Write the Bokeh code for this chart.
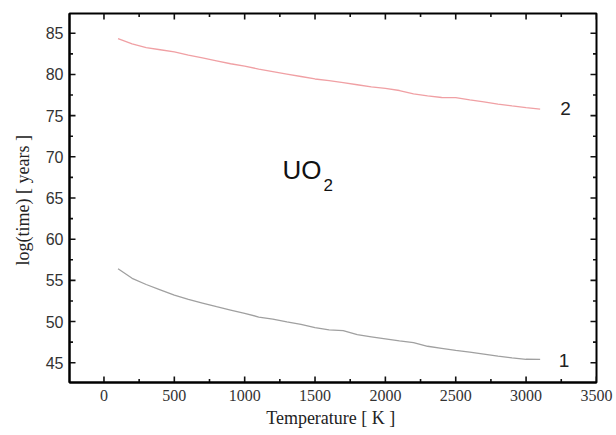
from bokeh.plotting import figure
from bokeh.models import Label, FixedTicker
from bokeh.embed import file_html
from bokeh.resources import INLINE

# Data
temperature = [100, 200, 300, 400, 500, 600, 700, 800, 900, 1000, 1100, 1200, 1300, 1400, 1500,
               1600, 1700, 1800, 1900, 2000, 2100, 2200, 2300, 2400, 2500, 2600, 2700, 2800, 2900,
               3000, 3100]
curve2 = [84.35, 83.7, 83.25, 83.0, 82.75, 82.35, 82.0, 81.65, 81.3, 81.0, 80.65, 80.35, 80.05,
          79.75, 79.45, 79.25, 79.0, 78.75, 78.5, 78.3, 78.05, 77.65, 77.4, 77.2, 77.18, 76.92,
          76.67, 76.4, 76.18, 75.98, 75.8]
curve1 = [56.4, 55.25, 54.5, 53.85, 53.2, 52.7, 52.25, 51.8, 51.4, 51.0, 50.55, 50.3, 49.95,
          49.65, 49.25, 49.0, 48.9, 48.4, 48.15, 47.9, 47.65, 47.45, 47.0, 46.75, 46.5,
          46.3, 46.05, 45.8, 45.6, 45.42, 45.4]
x_ticks = [0, 500, 1000, 1500, 2000, 2500, 3000, 3500]
x_minor = [250, 750, 1250, 1750, 2250, 2750, 3250]
y_ticks = [45, 50, 55, 60, 65, 70, 75, 80, 85]
y_minor = [47.5, 52.5, 57.5, 62.5, 67.5, 72.5, 77.5, 82.5]
curve_names = ["1", "2"]

X0, X1 = -245, 3500.5
Y0, Y1 = 42.6, 87.4
FW, FH = 527, 369
dx = (X1 - X0) / FW   # data units per pixel
dy = (Y1 - Y0) / FH

p = figure(frame_width=FW, frame_height=FH, x_range=(X0, X1), y_range=(Y0, Y1),
           output_backend="svg", toolbar_location=None,
           min_border_left=69, min_border_right=18, min_border_top=13, min_border_bottom=50,
           x_axis_label="Temperature  [ K ]", y_axis_label="log(time)  [ years ]")
p.outline_line_color = "black"
p.outline_line_width = 2
p.grid.visible = False
p.background_fill_color = "white"
p.border_fill_color = "white"

p.line(temperature, curve2, line_color="#f0a0a4", line_width=1.3)
p.line(temperature, curve1, line_color="#a0a0a0", line_width=1.3)

# inward ticks on all four sides, drawn as short segments inside the frame
tick_color = "#111111"
for xs, n in ((x_ticks, 6), (x_minor, 3.5)):
    p.segment(x0=xs, y0=[Y0] * len(xs), x1=xs, y1=[Y0 + n * dy] * len(xs),
              line_color=tick_color, line_width=1.6)
    p.segment(x0=xs, y0=[Y1] * len(xs), x1=xs, y1=[Y1 - n * dy] * len(xs),
              line_color=tick_color, line_width=1.6)
for ys, n in ((y_ticks, 6), (y_minor, 3.5)):
    p.segment(x0=[X0] * len(ys), y0=ys, x1=[X0 + n * dx] * len(ys), y1=ys,
              line_color=tick_color, line_width=1.6)
    p.segment(x0=[X1] * len(ys), y0=ys, x1=[X1 - n * dx] * len(ys), y1=ys,
              line_color=tick_color, line_width=1.6)

def style(ax, ticks):
    ax.ticker = FixedTicker(ticks=ticks)
    ax.axis_line_color = "black"
    ax.axis_line_width = 2
    ax.major_tick_line_color = None
    ax.minor_tick_line_color = None
    ax.major_tick_in = 0
    ax.major_tick_out = 0
    ax.minor_tick_in = 0
    ax.minor_tick_out = 0

xa = p.xaxis[0]
ya = p.yaxis[0]
style(xa, x_ticks)
style(ya, y_ticks)
xa.major_label_text_font = "Liberation Sans Narrow"
xa.major_label_text_font_size = "16px"
xa.major_label_text_color = "#333333"
xa.major_label_standoff = 7
xa.axis_label_text_font = "Liberation Serif"
xa.axis_label_text_font_style = "normal"
xa.axis_label_text_font_size = "18px"
xa.axis_label_text_color = "#222222"
xa.axis_label_standoff = 4
ya.major_label_text_font = "Liberation Sans"
ya.major_label_text_font_size = "16px"
ya.major_label_text_color = "#333333"
ya.major_label_standoff = 6
ya.axis_label_text_font = "Liberation Serif"
ya.axis_label_text_font_style = "normal"
ya.axis_label_text_font_size = "18px"
ya.axis_label_text_color = "#222222"
ya.axis_label_standoff = 10

# Curve labels
label_x = [3270, 3281]
label_y = [45.33, 75.9]
for name, lx, ly in zip(curve_names, label_x, label_y):
    p.add_layout(Label(x=lx, y=ly, text=name, text_font="Liberation Sans", text_font_size="19px",
                       text_color="#222222", text_align="center", text_baseline="middle"))

p.add_layout(Label(x=1268, y=68.4, text="UO", text_font="Liberation Sans", text_font_size="26px",
                   text_color="#111111", text_align="left", text_baseline="middle"))
p.add_layout(Label(x=1561, y=66.6, text="2", text_font="Liberation Sans", text_font_size="17px",
                   text_color="#111111", text_align="left", text_baseline="middle"))

open("out.html", "w").write(file_html(p, INLINE))
